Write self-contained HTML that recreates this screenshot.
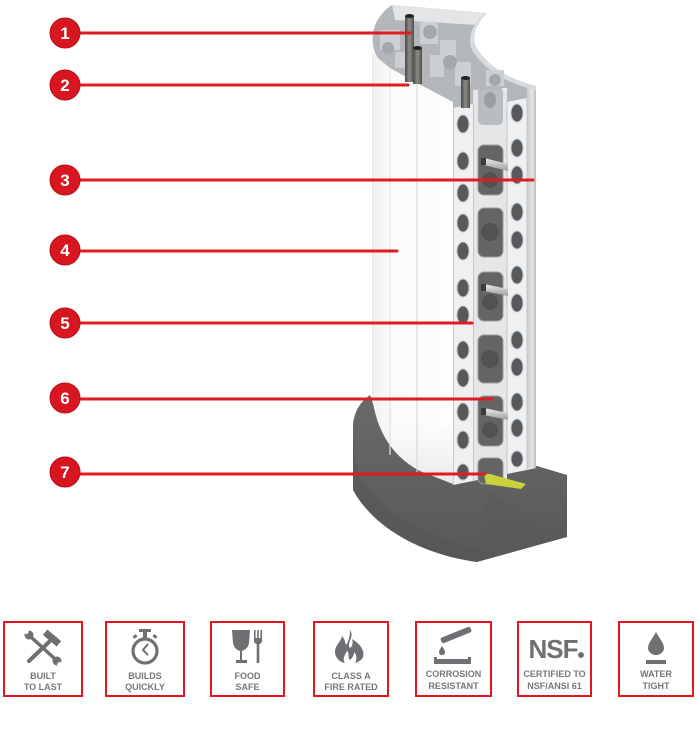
<!DOCTYPE html>
<html>
<head>
<meta charset="utf-8">
<style>
html,body{margin:0;padding:0;background:#fff;}
body{width:700px;height:730px;overflow:hidden;}
svg{display:block;}
.lbl{font-family:"Liberation Sans",sans-serif;font-weight:bold;font-size:17px;fill:#fff;}
.it{font-family:"Liberation Sans",sans-serif;font-weight:bold;font-size:9px;fill:#76777a;}
</style>
</head>
<body>
<svg width="700" height="730" viewBox="0 0 700 730" xmlns="http://www.w3.org/2000/svg">
<defs>
  <linearGradient id="baseG" x1="0" y1="0" x2="0" y2="1">
    <stop offset="0" stop-color="#6a6a6a"/>
    <stop offset="0.5" stop-color="#616161"/>
    <stop offset="1" stop-color="#585858"/>
  </linearGradient>
  <linearGradient id="whiteG" x1="0" y1="0" x2="1" y2="0">
    <stop offset="0" stop-color="#f1f1ee"/>
    <stop offset="0.25" stop-color="#fbfbf9"/>
    <stop offset="1" stop-color="#fdfdfc"/>
  </linearGradient>
  <linearGradient id="shadeG" x1="0" y1="0" x2="0" y2="1">
    <stop offset="0" stop-color="#ffffff" stop-opacity="0"/>
    <stop offset="1" stop-color="#c9c9c6" stop-opacity="0.8"/>
  </linearGradient>
  <linearGradient id="rodG" x1="0" y1="0" x2="1" y2="0">
    <stop offset="0" stop-color="#4a4a48"/>
    <stop offset="0.5" stop-color="#8d8b86"/>
    <stop offset="1" stop-color="#4e4d4a"/>
  </linearGradient>
  <linearGradient id="boltG" x1="0" y1="0" x2="0" y2="1">
    <stop offset="0" stop-color="#ececea"/>
    <stop offset="1" stop-color="#9c9c9a"/>
  </linearGradient>
  <linearGradient id="edgeG" x1="0" y1="0" x2="1" y2="0">
    <stop offset="0" stop-color="#c9ccce"/>
    <stop offset="0.6" stop-color="#e3e5e6"/>
    <stop offset="1" stop-color="#b9bcbf"/>
  </linearGradient>
</defs>

<!-- ===== BASE ===== -->
<path d="M370 395 C360 402 354 412 353 425 L353 490 C375 530 425 555 477 562 L567 537 L567 475 L537 466 L453 482 L420 470 C395 456 380 432 372 400 Z" fill="url(#baseG)"/>
<path d="M353 440 L353 490 C375 530 425 555 477 562 L478 548 C430 540 385 515 362 480 C356 470 354 455 353 440 Z" fill="#555" opacity="0.55"/>
<path d="M487 490 C505 505 535 525 567 533 L567 537 L477 562 C480 540 483 510 487 490 Z" fill="#5a5a5a" opacity="0.3"/>

<!-- ===== WHITE PANEL ===== -->
<path d="M372 52 L390 68 L415 82 L453 102 L453 484 L420 471 C395 458 380 436 374 408 L372 385 Z" fill="url(#whiteG)"/>
<path d="M372 400 L453 430 L453 484 L420 471 C395 458 380 436 374 408 Z" fill="url(#shadeG)" opacity="0.5"/>
<line x1="390" y1="68" x2="390" y2="455" stroke="#e2e2de" stroke-width="1.2"/>
<line x1="417" y1="82" x2="417" y2="472" stroke="#d9d9d5" stroke-width="1.2"/>
<line x1="372.5" y1="55" x2="372.5" y2="395" stroke="#e6e6e3" stroke-width="1"/>

<!-- ===== STRUT ===== -->
<path d="M453 108 L473 104 L473 90 L507 88 L507 102 L527 98 L527 88 L536 86 L536 468 L527 470 L507 474 L473 481 L453 485 Z" fill="#eef0f1"/>
<rect x="527" y="88" width="9" height="380" fill="url(#edgeG)"/>
<rect x="473" y="90" width="34" height="390" fill="#e4e6e8"/>
<line x1="453.5" y1="108" x2="453.5" y2="485" stroke="#c9cccf" stroke-width="1"/>
<line x1="473.5" y1="104" x2="473.5" y2="481" stroke="#c4c7ca" stroke-width="1"/>
<line x1="507" y1="100" x2="507" y2="474" stroke="#c4c7ca" stroke-width="1"/>
<line x1="527" y1="98" x2="527" y2="470" stroke="#c4c7ca" stroke-width="1"/>

<!-- windows in web -->
<rect x="478" y="87" width="25" height="38" rx="5" fill="#b9bcc0"/>
<ellipse cx="490" cy="100" rx="6" ry="8" fill="#9a9ea3"/>
<g fill="#646464" stroke="#9a9c9f" stroke-width="1">
  <rect x="478" y="145" width="25" height="50" rx="6"/>
  <rect x="478" y="208" width="25" height="49" rx="6"/>
  <rect x="478" y="272" width="25" height="49" rx="6"/>
  <rect x="478" y="335" width="25" height="48" rx="6"/>
  <rect x="478" y="396" width="25" height="50" rx="6"/>
  <rect x="478" y="458" width="25" height="26" rx="6"/>
</g>
<g fill="#525252">
  <circle cx="490" cy="180" r="8"/>
  <circle cx="490" cy="232" r="9"/>
  <circle cx="490" cy="302" r="8"/>
  <circle cx="490" cy="359" r="9"/>
  <circle cx="490" cy="430" r="8"/>
</g>
<!-- bolts -->
<g>
  <polygon points="484,158 508,164 508,171 484,165" fill="url(#boltG)"/>
  <rect x="481" y="158" width="5" height="7" fill="#3c3c3c"/>
  <polygon points="484,284 508,289 508,296 484,291" fill="url(#boltG)"/>
  <rect x="481" y="284" width="5" height="7" fill="#3c3c3c"/>
  <polygon points="484,408 508,413 508,420 484,415" fill="url(#boltG)"/>
  <rect x="481" y="408" width="5" height="7" fill="#3c3c3c"/>
</g>

<!-- holes -->
<g fill="#58595b" stroke="#c3c6c9" stroke-width="1">
  <ellipse cx="463" cy="124" rx="6" ry="9"/>
  <ellipse cx="463" cy="161" rx="6" ry="9"/>
  <ellipse cx="463" cy="193" rx="6" ry="9"/>
  <ellipse cx="463" cy="223" rx="6" ry="9"/>
  <ellipse cx="463" cy="251" rx="6" ry="9"/>
  <ellipse cx="463" cy="288" rx="6" ry="9"/>
  <ellipse cx="463" cy="315" rx="6" ry="9"/>
  <ellipse cx="463" cy="350" rx="6" ry="9"/>
  <ellipse cx="463" cy="378" rx="6" ry="9"/>
  <ellipse cx="463" cy="412" rx="6" ry="9"/>
  <ellipse cx="463" cy="440" rx="6" ry="9"/>
  <ellipse cx="463" cy="472" rx="6" ry="8"/>
  <ellipse cx="517" cy="113" rx="6" ry="9"/>
  <ellipse cx="517" cy="148" rx="6" ry="9"/>
  <ellipse cx="517" cy="175" rx="6" ry="9"/>
  <ellipse cx="517" cy="212" rx="6" ry="9"/>
  <ellipse cx="517" cy="240" rx="6" ry="9"/>
  <ellipse cx="517" cy="275" rx="6" ry="9"/>
  <ellipse cx="517" cy="303" rx="6" ry="9"/>
  <ellipse cx="517" cy="340" rx="6" ry="9"/>
  <ellipse cx="517" cy="367" rx="6" ry="9"/>
  <ellipse cx="517" cy="402" rx="6" ry="9"/>
  <ellipse cx="517" cy="428" rx="6" ry="9"/>
  <ellipse cx="517" cy="459" rx="6" ry="8"/>
</g>
<!-- yellow strip -->
<polygon points="484,474 490,474 526,484 521,489 486,484" fill="#c9d23a"/>

<!-- ===== CUTAWAY TOP ===== -->
<path d="M392 5 L487 13 C476 24 471 36 476 47 C487 66 510 80 536 86 L536 88 L527 88 L527 98 L507 102 L507 88 L473 90 L473 104 L453 108 L453 102 L415 82 L390 68 L378 58 C371 48 371 32 377 21 C382 13 387 8 392 5 Z" fill="#b3b7bb"/>
<path d="M392 5 L487 13 C482 17 479 21 477 25 L395 20 Z" fill="#e3e5e7"/>
<path d="M487 13 C476 24 471 36 476 47 C487 66 510 80 536 86 L536 90 C508 84 484 70 472 50 C467 38 472 24 484 14 Z" fill="#d8dbde"/>
<g fill="#cdd0d3">
  <rect x="380" y="30" width="20" height="20"/>
  <rect x="420" y="22" width="18" height="22"/>
  <rect x="440" y="40" width="16" height="26"/>
  <rect x="395" y="52" width="14" height="16"/>
  <rect x="430" y="55" width="14" height="22"/>
  <rect x="455" y="62" width="16" height="24"/>
  <rect x="486" y="70" width="18" height="16"/>
</g>
<g fill="#a4a8ad">
  <circle cx="430" cy="32" r="7"/>
  <circle cx="450" cy="62" r="7"/>
  <circle cx="388" cy="48" r="6"/>
  <circle cx="495" cy="80" r="6"/>
</g>
<!-- rods -->
<rect x="405" y="16" width="9" height="66" fill="url(#rodG)"/>
<ellipse cx="409.5" cy="16" rx="4.5" ry="2" fill="#222"/>
<rect x="413" y="48" width="9" height="36" fill="url(#rodG)"/>
<ellipse cx="417.5" cy="48" rx="4.5" ry="2" fill="#222"/>
<rect x="461" y="78" width="9" height="30" fill="url(#rodG)"/>
<ellipse cx="465.5" cy="78" rx="4.5" ry="2" fill="#222"/>

<!-- ===== CALLOUT LINES ===== -->
<g stroke="#e11b22" stroke-width="3" stroke-linecap="round">
  <line x1="78" y1="33" x2="410" y2="33"/>
  <line x1="78" y1="85" x2="408" y2="85"/>
  <line x1="78" y1="180" x2="533" y2="180"/>
  <line x1="78" y1="251" x2="397" y2="251"/>
  <line x1="78" y1="323" x2="472" y2="323"/>
  <line x1="78" y1="399" x2="492" y2="399"/>
  <line x1="78" y1="474" x2="485" y2="474"/>
</g>
<g fill="#d7161f" stroke="#b8111a" stroke-width="1">
  <circle cx="65" cy="33" r="15"/>
  <circle cx="65" cy="85" r="15"/>
  <circle cx="65" cy="180" r="15"/>
  <circle cx="65" cy="250" r="15"/>
  <circle cx="65" cy="323" r="15"/>
  <circle cx="65" cy="398" r="15"/>
  <circle cx="65" cy="472" r="15"/>
</g>
<g class="lbl" text-anchor="middle">
  <text x="65" y="39">1</text>
  <text x="65" y="91">2</text>
  <text x="65" y="186">3</text>
  <text x="65" y="256">4</text>
  <text x="65" y="329">5</text>
  <text x="65" y="404">6</text>
  <text x="65" y="478">7</text>
</g>

<!-- ===== ICON BOXES ===== -->
<g fill="none" stroke="#e3141d" stroke-width="2">
  <rect x="4" y="622" width="78" height="74"/>
  <rect x="106" y="622" width="78" height="74"/>
  <rect x="211" y="622" width="73" height="74"/>
  <rect x="314" y="622" width="74" height="74"/>
  <rect x="416" y="622" width="75" height="74"/>
  <rect x="518" y="622" width="73" height="74"/>
  <rect x="619" y="622" width="74" height="74"/>
</g>

<g fill="#6f7073" stroke="none">
  <!-- 1: hammer & wrench -->
  <line x1="50" y1="641" x2="29" y2="661" stroke="#6f7073" stroke-width="4" stroke-linecap="round"/>
  <rect x="-9" y="-3.5" width="18" height="7" transform="translate(52 638) rotate(40)"/>
  <line x1="31" y1="637" x2="55" y2="659" stroke="#6f7073" stroke-width="3.5" stroke-linecap="round"/>
  <circle cx="29" cy="635" r="4.5"/>
  <circle cx="57" cy="661" r="4.5"/>
  <rect x="24" y="629" width="4" height="5" fill="#fff" transform="rotate(-45 26 631.5)"/>
  <rect x="58" y="662" width="4" height="5" fill="#fff" transform="rotate(-45 60 664.5)"/>

  <!-- 2: stopwatch -->
  <circle cx="145" cy="651" r="12" fill="none" stroke="#6f7073" stroke-width="3.2"/>
  <rect x="139" y="629" width="12" height="3"/>
  <rect x="143" y="631" width="4" height="7"/>
  <rect x="133" y="635" width="4" height="3" transform="rotate(-40 135 636.5)"/>
  <rect x="153" y="635" width="4" height="3" transform="rotate(40 155 636.5)"/>
  <polyline points="148,644 143,650 148,655" fill="none" stroke="#6f7073" stroke-width="2"/>

  <!-- 3: glass & fork -->
  <path d="M232 630 L250 630 L249 643 C248 648 245 650 242 651 L242 660 L247 660 L247 663 L236 663 L236 660 L240 660 L240 651 C237 650 234 648 233 643 Z"/>
  <rect x="254" y="630" width="1.6" height="10"/>
  <rect x="257.2" y="630" width="1.6" height="10"/>
  <rect x="260.4" y="630" width="1.6" height="10"/>
  <path d="M254 638 L262 638 L262 641 C262 643 260 644 259.3 644 L259.3 663 L256.7 663 L256.7 644 C256 644 254 643 254 641 Z"/>

  <!-- 4: flame -->
  <path d="M350 630 C355 637 346 643 350 648 C353 646 353 642 352 639 C360 644 365 650 363 657 C362 660 358 662 355 663 C357 659 357 655 354 652 C354 656 352 658 350 660 C347 657 350 653 347 651 C345 655 342 659 345 663 C339 662 335 657 335 652 C335 645 341 642 342 636 C345 639 345 643 346 645 C349 641 350 636 350 630 Z"/>

  <!-- 5: corrosion -->
  <rect x="440" y="632" width="32" height="6" rx="2" transform="rotate(-22 456 635)"/>
  <path d="M442 646 C444 649 445 651 445 652 C445 654 444 655 442 655 C440 655 439 654 439 652 C439 651 440 649 442 646 Z"/>
  <path d="M434 657 L437 657 L437 659 L468 659 L468 657 L471 657 L471 664 L434 664 Z"/>

  <!-- 7: water drop -->
  <path d="M656 632 C659 638 664 643 664 648 C664 652 660 655 656 655 C652 655 648 652 648 648 C648 643 653 638 656 632 Z"/>
  <rect x="646" y="660" width="20" height="4"/>
</g>
<!-- 6: NSF -->
<text x="553" y="658" text-anchor="middle" font-family="Liberation Sans, sans-serif" font-weight="bold" font-size="26" fill="#6f7073" letter-spacing="-1">NSF</text>
<circle cx="581" cy="655" r="3" fill="#6f7073"/>

<g class="it" text-anchor="middle">
  <text x="43" y="679">BUILT</text>
  <text x="43" y="690">TO LAST</text>
  <text x="145" y="679">BUILDS</text>
  <text x="145" y="690">QUICKLY</text>
  <text x="247.5" y="679">FOOD</text>
  <text x="247.5" y="690">SAFE</text>
  <text x="351" y="679">CLASS A</text>
  <text x="351" y="690">FIRE RATED</text>
  <text x="453.5" y="677">CORROSION</text>
  <text x="453.5" y="689">RESISTANT</text>
  <text x="554.5" y="677">CERTIFIED TO</text>
  <text x="554.5" y="689">NSF/ANSI 61</text>
  <text x="656" y="677">WATER</text>
  <text x="656" y="689">TIGHT</text>
</g>
</svg>
</body>
</html>
